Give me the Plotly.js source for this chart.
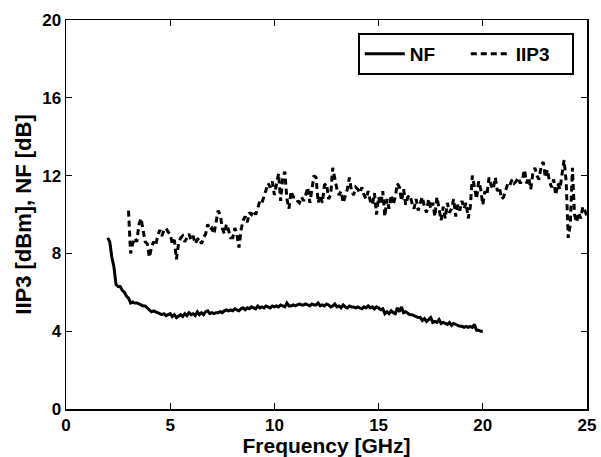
<!DOCTYPE html>
<html>
<head>
<meta charset="utf-8">
<script src="https://cdn.plot.ly/plotly-3.0.1.min.js"></script>
<style>html,body{margin:0;padding:0;background:#fff;}#chart{width:601px;height:457px;}</style>
</head>
<body>
<div id="chart"></div>
<script>
// NF samples: start frequency and spacing (GHz)
const nfStart = 2.0;
const nfStep = 0.1;
const nfValues = [
  8.8, 8.6, 7.8, 7.3, 6.4, 6.3, 6.3, 6.1, 6.0, 5.8,
  5.7, 5.45, 5.5, 5.45, 5.45, 5.4, 5.35, 5.3, 5.3, 5.2,
  5.05, 5.0, 5.05, 5.0, 4.95, 4.9, 4.85, 4.9, 4.8, 4.85,
  4.9, 4.75, 4.85, 4.7, 4.8, 4.85, 4.75, 4.9, 4.8, 4.95,
  4.85, 4.9, 4.8, 5.0, 4.85, 4.95, 4.85, 5.0, 5.05, 4.9,
  4.95, 4.9, 4.95, 4.95, 5.0, 4.95, 5.05, 5.1, 5.05, 5.1,
  5.05, 5.15, 5.1, 5.05, 5.15, 5.2, 5.1, 5.2, 5.15, 5.25,
  5.2, 5.15, 5.3, 5.2, 5.25, 5.2, 5.3, 5.25, 5.2, 5.3,
  5.25, 5.3, 5.25, 5.35, 5.3, 5.25, 5.45, 5.3, 5.3, 5.35,
  5.3, 5.35, 5.4, 5.35, 5.35, 5.4, 5.35, 5.3, 5.4, 5.35,
  5.35, 5.45, 5.3, 5.35, 5.3, 5.4, 5.35, 5.25, 5.3, 5.4,
  5.25, 5.3, 5.2, 5.35, 5.25, 5.2, 5.3, 5.25, 5.25, 5.2,
  5.25, 5.2, 5.15, 5.25, 5.2, 5.3, 5.2, 5.25, 5.15, 5.25,
  5.2, 5.1, 5.15, 4.9, 5.0, 4.9, 5.05, 4.95, 4.9, 5.2,
  5.0, 5.25, 4.95, 5.0, 4.9, 4.85, 4.85, 4.8, 4.75, 4.7,
  4.7, 4.55, 4.65, 4.5, 4.6, 4.7, 4.45, 4.5, 4.45, 4.6,
  4.4, 4.45, 4.4, 4.35, 4.45, 4.3, 4.4, 4.35, 4.3, 4.25,
  4.25, 4.2, 4.25, 4.2, 4.25, 4.2, 4.35, 4.05, 4.05, 4.0,
  4.0
];

// IIP3 samples: start frequency and spacing (GHz)
const iip3Start = 3.0;
const iip3Step = 0.1;
const iip3Values = [
  10.2, 8.0, 8.5, 8.8, 8.6, 9.5, 9.8, 9.2, 8.6, 8.5,
  7.8, 8.3, 8.6, 8.4, 8.9, 9.2, 8.9, 9.2, 9.3, 9.1,
  9.0, 8.5, 8.7, 7.7, 8.5, 8.8, 8.9, 8.6, 8.8, 9.0,
  8.7, 8.9, 8.5, 8.7, 8.8, 8.5, 8.8, 9.0, 9.5, 9.2,
  9.3, 9.0, 9.6, 10.2, 10.0, 9.3, 9.0, 9.5, 9.2, 8.8,
  8.8, 9.3, 9.0, 8.3, 9.2, 9.7, 9.9, 9.6, 10.1, 10.0,
  10.2, 10.0, 10.3, 10.7, 10.6, 10.9, 11.2, 11.6, 11.4, 11.7,
  11.0, 11.5, 12.1, 10.7, 11.9, 12.2, 10.8, 10.3, 11.2, 10.9,
  10.9, 10.7, 10.6, 10.9, 10.7, 11.0, 11.4, 10.6, 11.4, 12.0,
  11.9, 10.6, 11.0, 10.6, 11.5, 11.6, 10.8, 11.0, 12.4, 11.8,
  11.3, 11.0, 11.2, 10.6, 11.0, 11.3, 11.9, 11.2, 11.0, 11.4,
  11.3, 11.1, 11.4, 11.0, 10.8, 11.2, 10.7, 10.5, 11.1, 10.0,
  10.9, 10.5, 11.2, 9.9, 10.8, 10.3, 11.0, 10.5, 10.9, 11.6,
  11.4, 10.7, 11.3, 10.5, 10.9, 11.0, 10.6, 10.3, 10.8, 10.2,
  10.6, 10.9, 10.4, 10.1, 10.8, 10.3, 10.6, 9.9, 10.9, 10.2,
  9.7, 10.4, 9.8, 10.6, 10.1, 10.3, 10.8, 9.9, 10.5, 10.2,
  10.7, 10.3, 10.6, 9.8, 10.4, 12.0, 11.4, 10.8, 11.7, 11.3,
  10.5, 11.2, 11.0, 11.9, 11.5, 11.3, 11.9, 11.2, 11.4, 10.8,
  10.9, 11.3, 11.6, 11.5, 11.8, 11.6, 11.7, 11.9, 11.6, 11.8,
  12.3, 11.6, 11.9, 11.3, 12.1, 12.4, 12.0, 11.8, 12.5, 12.7,
  11.9, 12.3, 11.7, 11.4, 11.8, 11.0, 11.6, 11.3, 12.0, 12.8,
  11.7, 8.8, 9.5, 12.4, 10.0, 9.6, 10.1, 9.8, 10.4, 10.2,
  9.9
];

const xTicks = [0, 5, 10, 15, 20, 25];
const yTicks = [0, 4, 8, 12, 16, 20];

const fontFam = 'Liberation Sans, Arial, sans-serif';

const traces = [
  {
    name: 'NF', type: 'scatter', mode: 'lines',
    x0: nfStart, dx: nfStep, y: nfValues,
    line: {color: '#000', width: 3}
  },
  {
    name: 'IIP3', type: 'scatter', mode: 'lines',
    x0: iip3Start, dx: iip3Step, y: iip3Values,
    line: {color: '#000', width: 3, dash: '6px,4px'}
  }
];

const axisCommon = {
  showgrid: false, zeroline: false, automargin: false,
  showline: true, linecolor: '#000', linewidth: 1.5, mirror: 'ticks',
  ticks: 'inside', ticklen: 6, tickcolor: '#000', tickwidth: 1,
  tickfont: {family: fontFam, size: 17, color: '#000', weight: 'bold'}
};

const layout = {
  width: 601, height: 457,
  margin: {l: 66, r: 14, t: 20, b: 48},
  paper_bgcolor: '#fff', plot_bgcolor: '#fff',
  showlegend: true,
  legend: {
    orientation: 'h', x: 0.56, y: 0.967, xanchor: 'left', yanchor: 'top',
    bordercolor: '#000', borderwidth: 2, bgcolor: '#fff',
    font: {family: fontFam, size: 19, color: '#000', weight: 'bold'},
    itemwidth: 40, entrywidth: 51
  },
  xaxis: Object.assign({}, axisCommon, {
    range: [0, 25], tickvals: xTicks, ticktext: xTicks.map(String),
    title: {text: 'Frequency [GHz]', standoff: 0,
      font: {family: fontFam, size: 21, color: '#000', weight: 'bold'}}
  }),
  yaxis: Object.assign({}, axisCommon, {
    range: [0, 20], tickvals: yTicks, ticktext: yTicks.map(String),
    title: {text: 'IIP3 [dBm], NF [dB]', standoff: 4,
      font: {family: fontFam, size: 22, color: '#000', weight: 'bold'}}
  })
};

Plotly.newPlot('chart', traces, layout, {displayModeBar: false, staticPlot: true});
</script>
</body>
</html>
